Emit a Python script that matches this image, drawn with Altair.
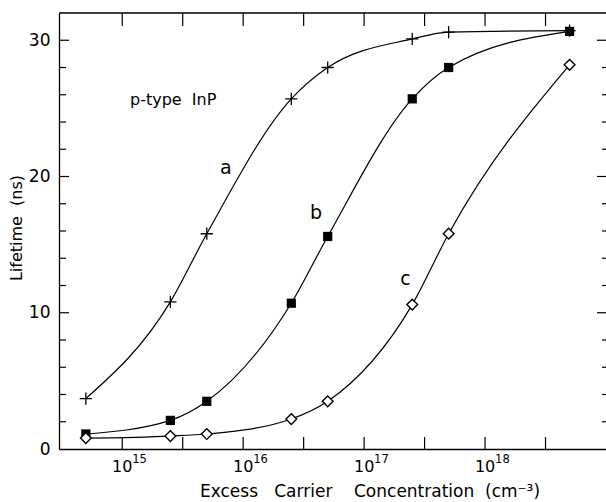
import altair as alt
import pandas as pd

# ---- data ----
conc = [5e14, 2.5e15, 5e15, 2.5e16, 5e16, 2.5e17, 5e17, 5e18]
life_a = [3.7, 10.8, 15.8, 25.7, 28.0, 30.1, 30.6, 30.7]
life_b = [1.1, 2.1, 3.5, 10.7, 15.6, 25.7, 28.0, 30.65]
life_c = [0.8, 0.95, 1.1, 2.2, 3.5, 10.6, 15.8, 28.2]

series_names = ["a", "b", "c"]
curve_labels = ["a", "b", "c"]
curve_label_x = [7.2e15, 4.0e16, 2.2e17]
curve_label_y = [20.6, 17.3, 12.5]

x_tick_values = [1e15, 3.162e15, 1e16, 3.162e16, 1e17, 3.162e17, 1e18, 3.162e18]
x_label_values = [1e15, 1e16, 1e17, 1e18]
x_label_exponents = ["15", "16", "17", "18"]
y_label_values = [0, 10, 20, 30]
y_major_ticks = [10, 20, 30]
y_minor_ticks = [2, 4, 6, 8, 12, 14, 16, 18, 22, 24, 26, 28]

W, H = 547, 436
FONT = "DejaVu Sans"

long = pd.DataFrame({
    "conc": conc * 3,
    "life": life_a + life_b + life_c,
    "series": [s for s in series_names for _ in conc],
})
df_a = pd.DataFrame({"conc": conc, "life": life_a})
df_b = pd.DataFrame({"conc": conc, "life": life_b})
df_c = pd.DataFrame({"conc": conc, "life": life_c})

xscale = alt.Scale(type="log", domain=[3e14, 1e19], nice=False)
yscale = alt.Scale(domain=[0, 32], nice=False, zero=True)
xaxis = alt.Axis(labels=False, ticks=False, title=None, grid=False,
                 domain=True, domainColor="black", domainWidth=1.3)
yaxis = alt.Axis(values=y_label_values, ticks=False, title=None, grid=False,
                 domain=True, domainColor="black", domainWidth=1.3,
                 labelFont=FONT, labelFontSize=17, labelColor="black",
                 labelPadding=9)

X = lambda f: alt.X(f, type="quantitative", scale=xscale, axis=xaxis)
Y = lambda f: alt.Y(f, type="quantitative", scale=yscale, axis=yaxis)

lines = alt.Chart(long).mark_line(
    interpolate="monotone", color="black", strokeWidth=1.2
).encode(x=X("conc"), y=Y("life"), detail="series:N")

plus = alt.Chart(df_a).mark_point(
    shape="M-1,0L1,0M0,-1L0,1", size=150, filled=False,
    stroke="black", strokeWidth=1.3, opacity=1
).encode(x=X("conc"), y=Y("life"))

squares = alt.Chart(df_b).mark_square(
    size=85, color="black", opacity=1
).encode(x=X("conc"), y=Y("life"))

diamonds = alt.Chart(df_c).mark_point(
    shape="diamond", size=115, filled=True, fill="white",
    stroke="black", strokeWidth=1.4, opacity=1
).encode(x=X("conc"), y=Y("life"))

# frame top line
top_line = alt.Chart(pd.DataFrame({"k": [0]})).mark_rule(
    color="black", strokeWidth=1.3
).encode(x=alt.value(0), x2=alt.value(W), y=alt.value(0))

xt = pd.DataFrame({"v": x_tick_values})
bottom_ticks = alt.Chart(xt).mark_rule(color="black", strokeWidth=1.2).encode(
    x=X("v"), y=alt.value(H), y2=alt.value(H - 12))
top_ticks = alt.Chart(xt).mark_rule(color="black", strokeWidth=1.2).encode(
    x=X("v"), y=alt.value(0), y2=alt.value(13))

ymaj = pd.DataFrame({"v": y_major_ticks})
ymin = pd.DataFrame({"v": y_minor_ticks})
left_major = alt.Chart(ymaj).mark_rule(color="black", strokeWidth=1.2).encode(
    y=Y("v"), x=alt.value(0), x2=alt.value(10))
left_minor = alt.Chart(ymin).mark_rule(color="black", strokeWidth=1.2).encode(
    y=Y("v"), x=alt.value(0), x2=alt.value(7))
right_major = alt.Chart(ymaj).mark_rule(color="black", strokeWidth=1.2).encode(
    y=Y("v"), x=alt.value(W), x2=alt.value(W - 9))
right_minor = alt.Chart(ymin).mark_rule(color="black", strokeWidth=1.2).encode(
    y=Y("v"), x=alt.value(W), x2=alt.value(W - 4))

# x tick labels 10^n
xl = pd.DataFrame({"v": x_label_values, "exp": x_label_exponents})
base_labels = alt.Chart(xl).mark_text(
    font=FONT, fontSize=16, color="black", align="center", baseline="alphabetic"
).encode(x=X("v"), y=alt.value(H + 23), text=alt.value("10"))
exp_labels = alt.Chart(xl).mark_text(
    font=FONT, fontSize=11.5, color="black", align="left", baseline="alphabetic", dx=10
).encode(x=X("v"), y=alt.value(H + 14), text="exp:N")

# curve letters
cl = pd.DataFrame({"t": curve_labels, "x": curve_label_x, "y": curve_label_y})
curve_text = alt.Chart(cl).mark_text(
    font=FONT, fontSize=19, color="black", align="center", baseline="middle"
).encode(x=X("x"), y=Y("y"), text="t:N")

# annotation
anno = alt.Chart(pd.DataFrame({"t": ["p-type\u00a0\u00a0InP"]})).mark_text(
    font=FONT, fontSize=16, color="black", align="left", baseline="middle"
).encode(x=alt.value(71), y=alt.value(87), text="t:N")

# axis titles
xtitle = alt.Chart(pd.DataFrame({"t": [
    "Excess\u00a0\u00a0\u00a0Carrier\u00a0\u00a0\u00a0\u00a0Concentration\u00a0\u00a0(cm\u207b\u00b3)"
]})).mark_text(
    font=FONT, fontSize=17, color="black", align="left", baseline="alphabetic"
).encode(x=alt.value(141), y=alt.value(H + 48), text="t:N")

ytitle = alt.Chart(pd.DataFrame({"t": ["Lifetime\u00a0\u00a0(ns)"]})).mark_text(
    font=FONT, fontSize=16, color="black", align="center", baseline="middle", angle=270
).encode(x=alt.value(-42), y=alt.value(215), text="t:N")

chart = alt.layer(
    lines, plus, squares, diamonds, top_line,
    bottom_ticks, top_ticks, left_major, left_minor, right_major, right_minor,
    base_labels, exp_labels, curve_text, anno, xtitle, ytitle,
).properties(
    width=W, height=H,
    autosize=alt.AutoSizeParams(type="none"),
    padding={"left": 59, "top": 13, "right": 0, "bottom": 53},
    background="white",
).configure_view(stroke=None)

chart.save("out.html", embed_options={"renderer": "svg", "actions": False})
